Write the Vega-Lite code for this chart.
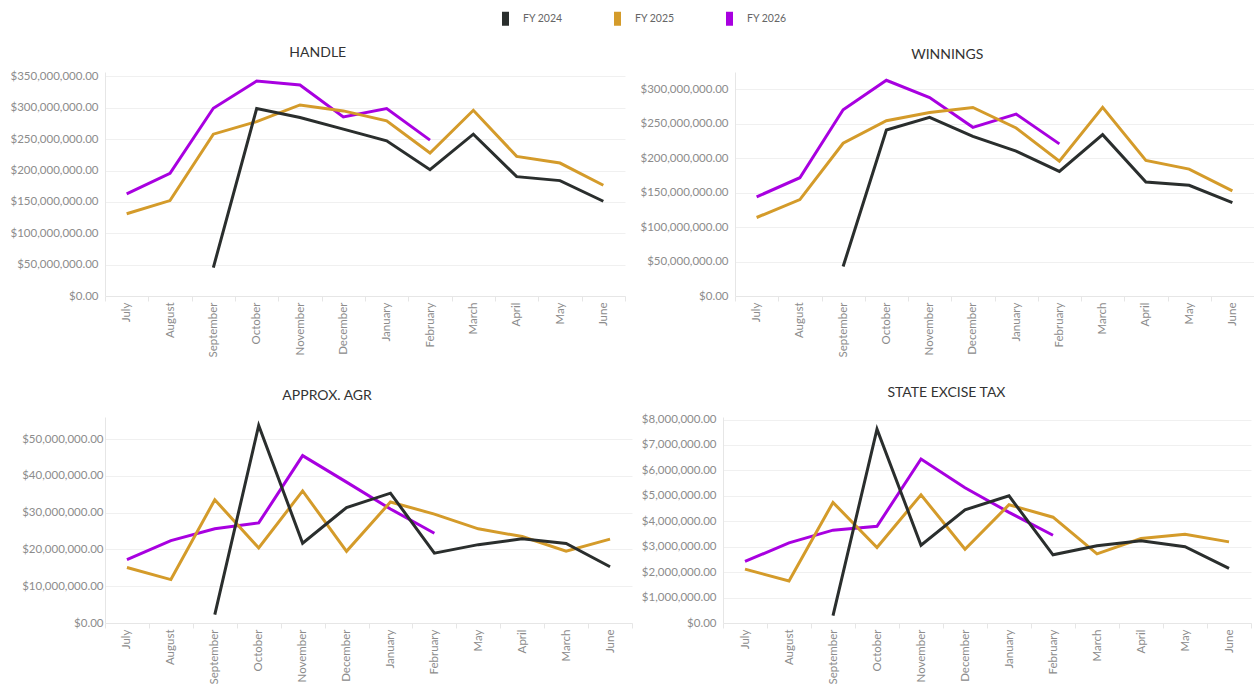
{
  "$schema": "https://vega.github.io/schema/vega-lite/v6.json",
  "background": "white",
  "padding": {"top": 8, "left": 10, "right": 0, "bottom": 0},
  "config": {
    "font": "Lato",
    "view": {"stroke": null},
    "axis": {"labelColor": "#8c8c8c", "labelFontSize": 11.5, "labelFont": "Lato", "gridColor": "#f0f0f0", "domainColor": "#e6e6e6", "tickColor": "#e6e6e6", "title": null},
    "axisY": {"ticks": false, "labelPadding": 7, "grid": true},
    "axisX": {"grid": false, "labelAngle": -90, "labelPadding": 1, "tickBand": "extent", "tickSize": 5, "labelFontSize": 11.5},
    "title": {"fontSize": 14, "font": "Lato", "fontWeight": "normal", "color": "#333333", "anchor": "middle", "frame": "bounds", "offset": 10},
    "line": {"strokeJoin": "miter"}
  },
  "data": {"values": [
    {"measure": "HANDLE", "fy": "FY 2026", "month": "July", "value": 162700000},
    {"measure": "HANDLE", "fy": "FY 2026", "month": "August", "value": 195500000},
    {"measure": "HANDLE", "fy": "FY 2026", "month": "September", "value": 299200000},
    {"measure": "HANDLE", "fy": "FY 2026", "month": "October", "value": 342600000},
    {"measure": "HANDLE", "fy": "FY 2026", "month": "November", "value": 336200000},
    {"measure": "HANDLE", "fy": "FY 2026", "month": "December", "value": 285400000},
    {"measure": "HANDLE", "fy": "FY 2026", "month": "January", "value": 298700000},
    {"measure": "HANDLE", "fy": "FY 2026", "month": "February", "value": 248400000},
    {"measure": "HANDLE", "fy": "FY 2025", "month": "July", "value": 131000000},
    {"measure": "HANDLE", "fy": "FY 2025", "month": "August", "value": 152100000},
    {"measure": "HANDLE", "fy": "FY 2025", "month": "September", "value": 257900000},
    {"measure": "HANDLE", "fy": "FY 2025", "month": "October", "value": 278000000},
    {"measure": "HANDLE", "fy": "FY 2025", "month": "November", "value": 304500000},
    {"measure": "HANDLE", "fy": "FY 2025", "month": "December", "value": 295000000},
    {"measure": "HANDLE", "fy": "FY 2025", "month": "January", "value": 279100000},
    {"measure": "HANDLE", "fy": "FY 2025", "month": "February", "value": 227800000},
    {"measure": "HANDLE", "fy": "FY 2025", "month": "March", "value": 296000000},
    {"measure": "HANDLE", "fy": "FY 2025", "month": "April", "value": 222500000},
    {"measure": "HANDLE", "fy": "FY 2025", "month": "May", "value": 211900000},
    {"measure": "HANDLE", "fy": "FY 2025", "month": "June", "value": 176500000},
    {"measure": "HANDLE", "fy": "FY 2024", "month": "September", "value": 45200000},
    {"measure": "HANDLE", "fy": "FY 2024", "month": "October", "value": 298700000},
    {"measure": "HANDLE", "fy": "FY 2024", "month": "November", "value": 284400000},
    {"measure": "HANDLE", "fy": "FY 2024", "month": "December", "value": 265900000},
    {"measure": "HANDLE", "fy": "FY 2024", "month": "January", "value": 247400000},
    {"measure": "HANDLE", "fy": "FY 2024", "month": "February", "value": 201300000},
    {"measure": "HANDLE", "fy": "FY 2024", "month": "March", "value": 257900000},
    {"measure": "HANDLE", "fy": "FY 2024", "month": "April", "value": 190200000},
    {"measure": "HANDLE", "fy": "FY 2024", "month": "May", "value": 183900000},
    {"measure": "HANDLE", "fy": "FY 2024", "month": "June", "value": 151000000},

    {"measure": "WINNINGS", "fy": "FY 2026", "month": "July", "value": 143800000},
    {"measure": "WINNINGS", "fy": "FY 2026", "month": "August", "value": 171600000},
    {"measure": "WINNINGS", "fy": "FY 2026", "month": "September", "value": 270200000},
    {"measure": "WINNINGS", "fy": "FY 2026", "month": "October", "value": 313000000},
    {"measure": "WINNINGS", "fy": "FY 2026", "month": "November", "value": 288000000},
    {"measure": "WINNINGS", "fy": "FY 2026", "month": "December", "value": 244700000},
    {"measure": "WINNINGS", "fy": "FY 2026", "month": "January", "value": 264000000},
    {"measure": "WINNINGS", "fy": "FY 2026", "month": "February", "value": 220700000},
    {"measure": "WINNINGS", "fy": "FY 2025", "month": "July", "value": 113900000},
    {"measure": "WINNINGS", "fy": "FY 2025", "month": "August", "value": 139900000},
    {"measure": "WINNINGS", "fy": "FY 2025", "month": "September", "value": 221600000},
    {"measure": "WINNINGS", "fy": "FY 2025", "month": "October", "value": 254300000},
    {"measure": "WINNINGS", "fy": "FY 2025", "month": "November", "value": 266300000},
    {"measure": "WINNINGS", "fy": "FY 2025", "month": "December", "value": 273600000},
    {"measure": "WINNINGS", "fy": "FY 2025", "month": "January", "value": 243800000},
    {"measure": "WINNINGS", "fy": "FY 2025", "month": "February", "value": 195700000},
    {"measure": "WINNINGS", "fy": "FY 2025", "month": "March", "value": 273600000},
    {"measure": "WINNINGS", "fy": "FY 2025", "month": "April", "value": 196600000},
    {"measure": "WINNINGS", "fy": "FY 2025", "month": "May", "value": 184100000},
    {"measure": "WINNINGS", "fy": "FY 2025", "month": "June", "value": 152400000},
    {"measure": "WINNINGS", "fy": "FY 2024", "month": "September", "value": 42800000},
    {"measure": "WINNINGS", "fy": "FY 2024", "month": "October", "value": 240900000},
    {"measure": "WINNINGS", "fy": "FY 2024", "month": "November", "value": 259100000},
    {"measure": "WINNINGS", "fy": "FY 2024", "month": "December", "value": 231700000},
    {"measure": "WINNINGS", "fy": "FY 2024", "month": "January", "value": 210100000},
    {"measure": "WINNINGS", "fy": "FY 2024", "month": "February", "value": 180800000},
    {"measure": "WINNINGS", "fy": "FY 2024", "month": "March", "value": 234100000},
    {"measure": "WINNINGS", "fy": "FY 2024", "month": "April", "value": 165400000},
    {"measure": "WINNINGS", "fy": "FY 2024", "month": "May", "value": 160600000},
    {"measure": "WINNINGS", "fy": "FY 2024", "month": "June", "value": 135600000},

    {"measure": "APPROX. AGR", "fy": "FY 2026", "month": "July", "value": 17200000},
    {"measure": "APPROX. AGR", "fy": "FY 2026", "month": "August", "value": 22400000},
    {"measure": "APPROX. AGR", "fy": "FY 2026", "month": "September", "value": 25600000},
    {"measure": "APPROX. AGR", "fy": "FY 2026", "month": "October", "value": 27200000},
    {"measure": "APPROX. AGR", "fy": "FY 2026", "month": "November", "value": 45500000},
    {"measure": "APPROX. AGR", "fy": "FY 2026", "month": "December", "value": 38300000},
    {"measure": "APPROX. AGR", "fy": "FY 2026", "month": "January", "value": 31000000},
    {"measure": "APPROX. AGR", "fy": "FY 2026", "month": "February", "value": 24400000},
    {"measure": "APPROX. AGR", "fy": "FY 2025", "month": "July", "value": 15100000},
    {"measure": "APPROX. AGR", "fy": "FY 2025", "month": "August", "value": 11800000},
    {"measure": "APPROX. AGR", "fy": "FY 2025", "month": "September", "value": 33500000},
    {"measure": "APPROX. AGR", "fy": "FY 2025", "month": "October", "value": 20400000},
    {"measure": "APPROX. AGR", "fy": "FY 2025", "month": "November", "value": 35900000},
    {"measure": "APPROX. AGR", "fy": "FY 2025", "month": "December", "value": 19500000},
    {"measure": "APPROX. AGR", "fy": "FY 2025", "month": "January", "value": 32900000},
    {"measure": "APPROX. AGR", "fy": "FY 2025", "month": "February", "value": 29600000},
    {"measure": "APPROX. AGR", "fy": "FY 2025", "month": "May", "value": 25600000},
    {"measure": "APPROX. AGR", "fy": "FY 2025", "month": "April", "value": 23500000},
    {"measure": "APPROX. AGR", "fy": "FY 2025", "month": "March", "value": 19500000},
    {"measure": "APPROX. AGR", "fy": "FY 2025", "month": "June", "value": 22800000},
    {"measure": "APPROX. AGR", "fy": "FY 2024", "month": "September", "value": 2300000},
    {"measure": "APPROX. AGR", "fy": "FY 2024", "month": "October", "value": 53700000},
    {"measure": "APPROX. AGR", "fy": "FY 2024", "month": "November", "value": 21700000},
    {"measure": "APPROX. AGR", "fy": "FY 2024", "month": "December", "value": 31400000},
    {"measure": "APPROX. AGR", "fy": "FY 2024", "month": "January", "value": 35300000},
    {"measure": "APPROX. AGR", "fy": "FY 2024", "month": "February", "value": 19000000},
    {"measure": "APPROX. AGR", "fy": "FY 2024", "month": "May", "value": 21300000},
    {"measure": "APPROX. AGR", "fy": "FY 2024", "month": "April", "value": 22900000},
    {"measure": "APPROX. AGR", "fy": "FY 2024", "month": "March", "value": 21600000},
    {"measure": "APPROX. AGR", "fy": "FY 2024", "month": "June", "value": 15300000},

    {"measure": "STATE EXCISE TAX", "fy": "FY 2026", "month": "July", "value": 2420000},
    {"measure": "STATE EXCISE TAX", "fy": "FY 2026", "month": "August", "value": 3150000},
    {"measure": "STATE EXCISE TAX", "fy": "FY 2026", "month": "September", "value": 3650000},
    {"measure": "STATE EXCISE TAX", "fy": "FY 2026", "month": "October", "value": 3800000},
    {"measure": "STATE EXCISE TAX", "fy": "FY 2026", "month": "November", "value": 6450000},
    {"measure": "STATE EXCISE TAX", "fy": "FY 2026", "month": "December", "value": 5320000},
    {"measure": "STATE EXCISE TAX", "fy": "FY 2026", "month": "January", "value": 4350000},
    {"measure": "STATE EXCISE TAX", "fy": "FY 2026", "month": "February", "value": 3450000},
    {"measure": "STATE EXCISE TAX", "fy": "FY 2025", "month": "July", "value": 2120000},
    {"measure": "STATE EXCISE TAX", "fy": "FY 2025", "month": "August", "value": 1650000},
    {"measure": "STATE EXCISE TAX", "fy": "FY 2025", "month": "September", "value": 4740000},
    {"measure": "STATE EXCISE TAX", "fy": "FY 2025", "month": "October", "value": 2970000},
    {"measure": "STATE EXCISE TAX", "fy": "FY 2025", "month": "November", "value": 5040000},
    {"measure": "STATE EXCISE TAX", "fy": "FY 2025", "month": "December", "value": 2900000},
    {"measure": "STATE EXCISE TAX", "fy": "FY 2025", "month": "January", "value": 4650000},
    {"measure": "STATE EXCISE TAX", "fy": "FY 2025", "month": "February", "value": 4160000},
    {"measure": "STATE EXCISE TAX", "fy": "FY 2025", "month": "March", "value": 2720000},
    {"measure": "STATE EXCISE TAX", "fy": "FY 2025", "month": "April", "value": 3320000},
    {"measure": "STATE EXCISE TAX", "fy": "FY 2025", "month": "May", "value": 3490000},
    {"measure": "STATE EXCISE TAX", "fy": "FY 2025", "month": "June", "value": 3190000},
    {"measure": "STATE EXCISE TAX", "fy": "FY 2024", "month": "September", "value": 290000},
    {"measure": "STATE EXCISE TAX", "fy": "FY 2024", "month": "October", "value": 7620000},
    {"measure": "STATE EXCISE TAX", "fy": "FY 2024", "month": "November", "value": 3060000},
    {"measure": "STATE EXCISE TAX", "fy": "FY 2024", "month": "December", "value": 4450000},
    {"measure": "STATE EXCISE TAX", "fy": "FY 2024", "month": "January", "value": 5000000},
    {"measure": "STATE EXCISE TAX", "fy": "FY 2024", "month": "February", "value": 2680000},
    {"measure": "STATE EXCISE TAX", "fy": "FY 2024", "month": "March", "value": 3040000},
    {"measure": "STATE EXCISE TAX", "fy": "FY 2024", "month": "April", "value": 3230000},
    {"measure": "STATE EXCISE TAX", "fy": "FY 2024", "month": "May", "value": 3000000},
    {"measure": "STATE EXCISE TAX", "fy": "FY 2024", "month": "June", "value": 2150000}
  ]},
  "spacing": 28,
  "vconcat": [
    {
      "spacing": 14,
      "hconcat": [
        {
          "title": "HANDLE",
          "width": 520, "height": 224,
          "transform": [{"filter": "datum.measure === 'HANDLE'"}],
          "mark": {"type": "line"},
          "encoding": {
            "x": {"field": "month", "type": "nominal", "bandPosition": 0.5,
                  "sort": ["July","August","September","October","November","December","January","February","March","April","May","June"],
                  "scale": {"type": "band", "paddingInner": 0, "paddingOuter": 0}},
            "y": {"field": "value", "type": "quantitative",
                  "scale": {"domain": [0, 357000000], "nice": false, "zero": true},
                  "axis": {"format": "$,.2f", "values": [0, 50000000, 100000000, 150000000, 200000000, 250000000, 300000000, 350000000]}},
            "strokeWidth": {"value": 3},
            "color": {"field": "fy", "type": "nominal",
                      "scale": {"domain": ["FY 2024", "FY 2025", "FY 2026"], "range": ["#2a2e2d", "#d49b2a", "#a800e0"]},
                      "legend": {"orient": "none", "legendX": 390, "legendY": -64, "direction": "horizontal", "title": null,
                                 "symbolType": "M0,-1L0,1", "symbolSize": 196, "symbolStrokeWidth": 7, "symbolOpacity": 1,
                                 "labelFontSize": 10.5, "labelColor": "#666666", "labelFont": "Lato", "labelOffset": 7, "columnPadding": 40}}
          }
        },
        {
          "title": "WINNINGS",
          "width": 519, "height": 224,
          "transform": [{"filter": "datum.measure === 'WINNINGS'"}],
          "mark": {"type": "line"},
          "encoding": {
            "x": {"field": "month", "type": "nominal", "bandPosition": 0.5,
                  "sort": ["July","August","September","October","November","December","January","February","March","April","May","June"],
                  "scale": {"type": "band", "paddingInner": 0, "paddingOuter": 0}},
            "y": {"field": "value", "type": "quantitative",
                  "scale": {"domain": [0, 325000000], "nice": false, "zero": true},
                  "axis": {"format": "$,.2f", "values": [0, 50000000, 100000000, 150000000, 200000000, 250000000, 300000000]}},
            "strokeWidth": {"value": 3},
            "color": {"field": "fy", "type": "nominal"}
          }
        }
      ]
    },
    {
      "spacing": 8,
      "hconcat": [
        {
          "title": {"text": "APPROX. AGR", "offset": 14},
          "width": 527, "height": 206,
          "transform": [{"filter": "datum.measure === 'APPROX. AGR'"}],
          "mark": {"type": "line"},
          "encoding": {
            "x": {"field": "month", "type": "nominal", "bandPosition": 0.5,
                  "sort": ["July","August","September","October","November","December","January","February","May","April","March","June"],
                  "scale": {"type": "band", "paddingInner": 0, "paddingOuter": 0}},
            "y": {"field": "value", "type": "quantitative",
                  "scale": {"domain": [0, 56000000], "nice": false, "zero": true},
                  "axis": {"format": "$,.2f", "labelPadding": 2, "values": [0, 10000000, 20000000, 30000000, 40000000, 50000000]}},
            "strokeWidth": {"value": 3},
            "color": {"field": "fy", "type": "nominal"}
          }
        },
        {
          "title": {"text": "STATE EXCISE TAX", "offset": 14},
          "width": 528, "height": 206,
          "transform": [{"filter": "datum.measure === 'STATE EXCISE TAX'"}],
          "mark": {"type": "line"},
          "encoding": {
            "x": {"field": "month", "type": "nominal", "bandPosition": 0.5,
                  "sort": ["July","August","September","October","November","December","January","February","March","April","May","June"],
                  "scale": {"type": "band", "paddingInner": 0, "paddingOuter": 0}},
            "y": {"field": "value", "type": "quantitative",
                  "scale": {"domain": [0, 8100000], "nice": false, "zero": true},
                  "axis": {"format": "$,.2f", "values": [0, 1000000, 2000000, 3000000, 4000000, 5000000, 6000000, 7000000, 8000000]}},
            "strokeWidth": {"value": 3},
            "color": {"field": "fy", "type": "nominal"}
          }
        }
      ]
    }
  ],
  "resolve": {"scale": {"x": "independent", "y": "independent", "color": "shared"}}
}
